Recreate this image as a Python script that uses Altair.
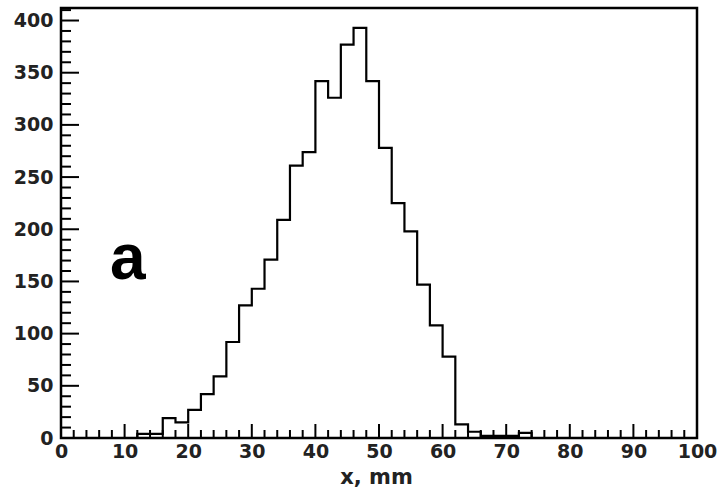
import altair as alt
import pandas as pd

# Histogram: bin left edges (width 2 mm) and counts
bin_edges = list(range(0, 100, 2))
counts = [0, 0, 0, 0, 0, 0, 4, 4, 19, 15,
          27, 42, 59, 92, 127, 143, 171, 209, 261, 274,
          342, 326, 377, 393, 342, 278, 225, 198, 147, 108,
          78, 13, 6, 2, 2, 2, 5, 0, 0, 0,
          0, 0, 0, 0, 0, 0, 0, 0, 0, 0]

x_major = list(range(0, 101, 10))
x_minor = [v for v in range(0, 101, 2) if v % 10 != 0]
y_major = list(range(0, 401, 50))
y_minor = [v for v in range(0, 411, 10) if v % 50 != 0]

label_text = ["a"]
label_x = [7.7]
label_y = [152]

W, H = 636, 430
XMAX, YMAX = 100, 412

hist = pd.DataFrame({"x": bin_edges + [100], "y": counts + [counts[-1]]})

xs = alt.Scale(domain=[0, XMAX], nice=False, zero=False)
ys = alt.Scale(domain=[0, YMAX], nice=False)

FONT = "DejaVu Sans"

line = alt.Chart(hist).mark_line(
    interpolate="step-after", color="black", strokeWidth=2.2
).encode(
    x=alt.X("x:Q", scale=xs, axis=alt.Axis(
        title="x, mm", values=x_major, format="d", ticks=False, domain=False,
        grid=False, labelFlush=False, labelOverlap=False, labelPadding=4,
        labelFont=FONT, labelFontSize=19, labelFontWeight="bold", labelColor="#222",
        titleFont=FONT, titleFontSize=21, titleFontWeight="bold", titleColor="#222",
        titleY=45, titleX=315, titleBaseline="alphabetic", titleAlign="center")),
    y=alt.Y("y:Q", scale=ys, axis=alt.Axis(
        title=None, values=y_major, format="d", ticks=False, domain=False,
        grid=False, labelFlush=False, labelOverlap=False, labelPadding=8,
        labelFont=FONT, labelFontSize=19, labelFontWeight="bold", labelColor="#222")),
)

def xticks(vals, length):
    return alt.Chart(pd.DataFrame({"x": vals})).mark_rule(
        color="black", strokeWidth=2
    ).encode(x=alt.X("x:Q", scale=xs), y=alt.value(H), y2=alt.value(H - length))

def yticks(vals, length):
    return alt.Chart(pd.DataFrame({"y": vals})).mark_rule(
        color="black", strokeWidth=2
    ).encode(y=alt.Y("y:Q", scale=ys), x=alt.value(0), x2=alt.value(length))

label = alt.Chart(pd.DataFrame({"t": label_text, "x": label_x, "y": label_y})).mark_text(
    font="Liberation Sans", fontSize=64, fontWeight="bold", align="left",
    baseline="alphabetic", color="black"
).encode(x=alt.X("x:Q", scale=xs), y=alt.Y("y:Q", scale=ys), text="t:N")

chart = alt.layer(
    line, xticks(x_major, 14), xticks(x_minor, 8), yticks(y_major, 18),
    yticks(y_minor, 10), label
).properties(
    width=W, height=H,
    autosize=alt.AutoSizeParams(type="none"),
    padding={"left": 61, "top": 8, "right": 22, "bottom": 52},
).configure(
    background="white",
    view=alt.ViewConfig(stroke="black", strokeWidth=2.5),
)

chart.save("out.html", embed_options={"renderer": "svg", "actions": False})
